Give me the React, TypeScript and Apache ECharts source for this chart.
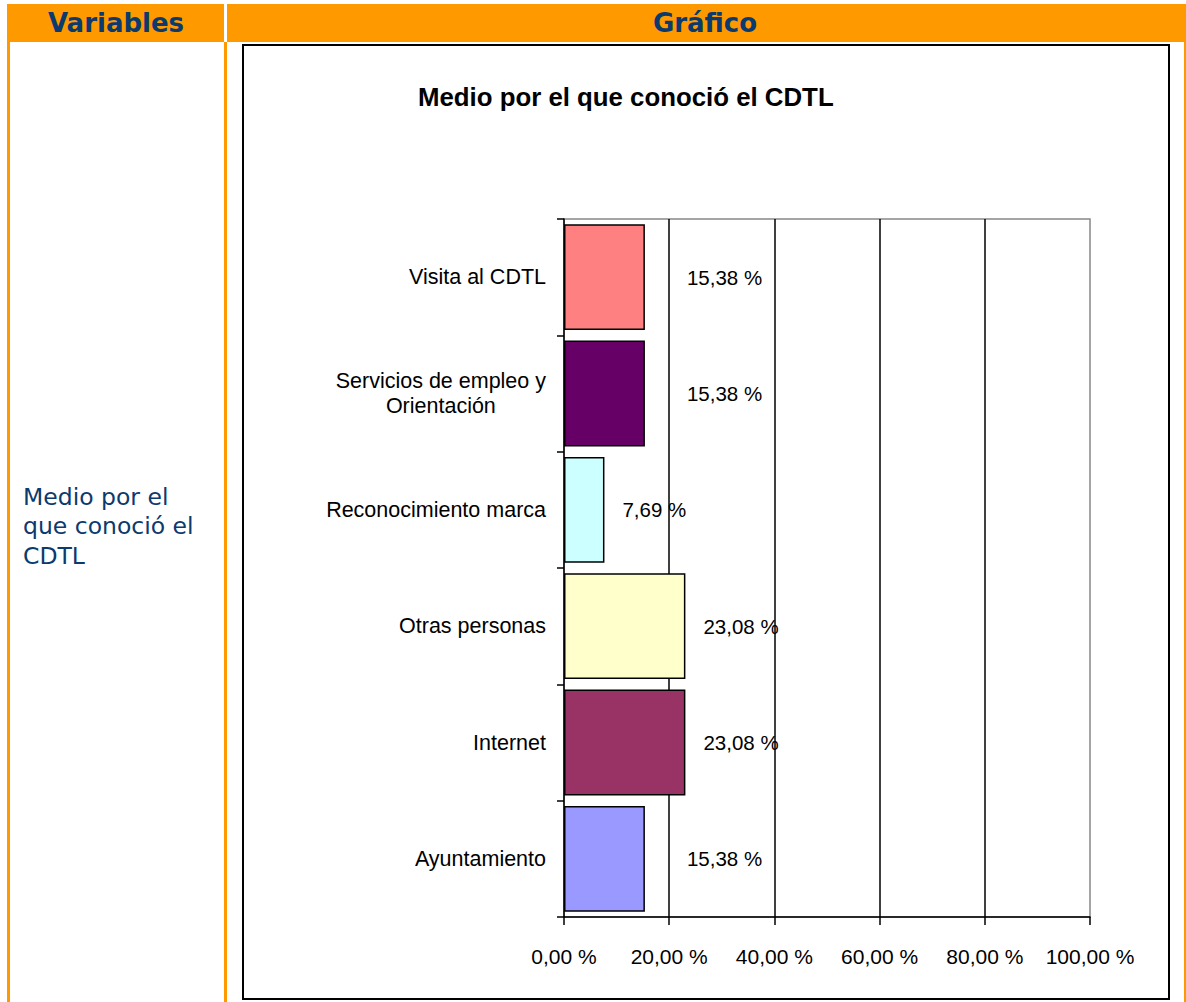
import React, { useEffect, useRef } from "react";
import * as echarts from "echarts";

const categories = [
  "Visita al CDTL",
  "Servicios de empleo y\nOrientación",
  "Reconocimiento marca",
  "Otras personas",
  "Internet",
  "Ayuntamiento",
];
const values = [15.38, 15.38, 7.69, 23.08, 23.08, 15.38];
const barColors = ["#FF8080", "#660066", "#CCFFFF", "#FFFFCC", "#993366", "#9999FF"];
const labelDistances = [42, 42, 18, 18, 18, 42];
const xTicks = [0, 20, 40, 60, 80, 100];

const headerLeft = "Variables";
const headerRight = "Gráfico";
const variableText = "Medio por el\nque conoció el\nCDTL";
const chartTitle = "Medio por el que conoció el CDTL";

const ORANGE = "#FF9900";
const NAVY = "#0B3A6E";
const FONT = "'Liberation Sans', Arial, sans-serif";
const VFONT = "'DejaVu Sans', Verdana, sans-serif";

const fmt = (v: number) => v.toFixed(2).replace(".", ",") + " %";

export default function App() {
  const ref = useRef<HTMLDivElement>(null);
  useEffect(() => {
    if (!ref.current) return;
    const chart = echarts.init(ref.current, undefined, { renderer: "svg" });
    chart.setOption({
      animation: false,
      backgroundColor: "#ffffff",
      grid: {
        left: 564,
        top: 219,
        right: 96,
        bottom: 85,
        show: true,
        borderColor: "#888888",
        borderWidth: 1.5,
        backgroundColor: "transparent",
      },
      xAxis: {
        type: "value",
        min: xTicks[0],
        max: xTicks[xTicks.length - 1],
        interval: 20,
        axisLine: { show: true, lineStyle: { color: "#000", width: 1.5 } },
        axisTick: { show: true, length: 8, lineStyle: { color: "#000", width: 1.5 } },
        axisLabel: {
          formatter: (v: number) => fmt(v),
          fontFamily: FONT,
          fontSize: 21,
          color: "#000",
          margin: 29,
        },
        splitLine: {
          show: true,
          showMinLine: false,
          showMaxLine: false,
          lineStyle: { color: "#000", width: 1.5 },
        },
      },
      yAxis: {
        type: "category",
        data: categories,
        inverse: true,
        axisLine: { show: true, lineStyle: { color: "#000", width: 1.5 } },
        axisTick: { show: true, length: 7, lineStyle: { color: "#000", width: 1.5 } },
        axisLabel: {
          fontFamily: FONT,
          fontSize: 22,
          color: "#000",
          margin: 18,
          align: "right",
          lineHeight: 25,
          formatter: (v: string) =>
            v
              .split("\n")
              .map((s) => `{c|${s}}`)
              .join("\n"),
          rich: {
            c: { align: "center", fontFamily: FONT, fontSize: 21.5, color: "#000", lineHeight: 25 },
          },
        },
      },
      series: [
        {
          type: "bar",
          barCategoryGap: "9%",
          data: values.map((v, i) => ({
            value: v,
            itemStyle: { color: barColors[i], borderColor: "#000", borderWidth: 1.5 },
            label: { distance: labelDistances[i] },
          })),
          label: {
            show: true,
            position: "right",
            formatter: (p: any) => fmt(p.value),
            fontFamily: FONT,
            fontSize: 20.5,
            color: "#000",
          },
        },
      ],
      graphic: [
        { type: "rect", shape: { x: 7, y: 4, width: 1179, height: 38 }, style: { fill: ORANGE }, z: 1 },
        { type: "rect", shape: { x: 224, y: 4, width: 3, height: 38 }, style: { fill: "#ffffff" }, z: 2 },
        { type: "rect", shape: { x: 7, y: 42, width: 3, height: 960 }, style: { fill: ORANGE }, z: 1 },
        { type: "rect", shape: { x: 224, y: 42, width: 3, height: 960 }, style: { fill: ORANGE }, z: 1 },
        { type: "rect", shape: { x: 1184, y: 42, width: 2, height: 960 }, style: { fill: ORANGE }, z: 1 },
        {
          type: "text",
          x: 116,
          y: 23,
          style: {
            text: headerLeft,
            fontFamily: VFONT,
            fontWeight: "bold",
            fontSize: 26,
            fill: NAVY,
            textAlign: "center",
            textVerticalAlign: "middle",
          },
          z: 3,
        },
        {
          type: "text",
          x: 705,
          y: 23,
          style: {
            text: headerRight,
            fontFamily: VFONT,
            fontWeight: "bold",
            fontSize: 26,
            fill: NAVY,
            textAlign: "center",
            textVerticalAlign: "middle",
          },
          z: 3,
        },
        {
          type: "text",
          x: 23,
          y: 482,
          style: {
            text: variableText,
            fontFamily: VFONT,
            fontSize: 23.5,
            lineHeight: 29.5,
            fill: NAVY,
            textAlign: "left",
            textVerticalAlign: "top",
          },
          z: 3,
        },
        {
          type: "rect",
          shape: { x: 243, y: 45, width: 926, height: 954 },
          style: { fill: "none", stroke: "#000", lineWidth: 2 },
          z: 3,
        },
        {
          type: "text",
          x: 418,
          y: 97,
          style: {
            text: chartTitle,
            fontFamily: FONT,
            fontWeight: "bold",
            fontSize: 25.8,
            fill: "#000",
            textAlign: "left",
            textVerticalAlign: "middle",
          },
          z: 3,
        },
      ],
    });
    return () => chart.dispose();
  }, []);
  return (
    <div
      ref={ref}
      style={{ position: "absolute", left: 0, top: 0, width: 1186, height: 1002 }}
    />
  );
}
